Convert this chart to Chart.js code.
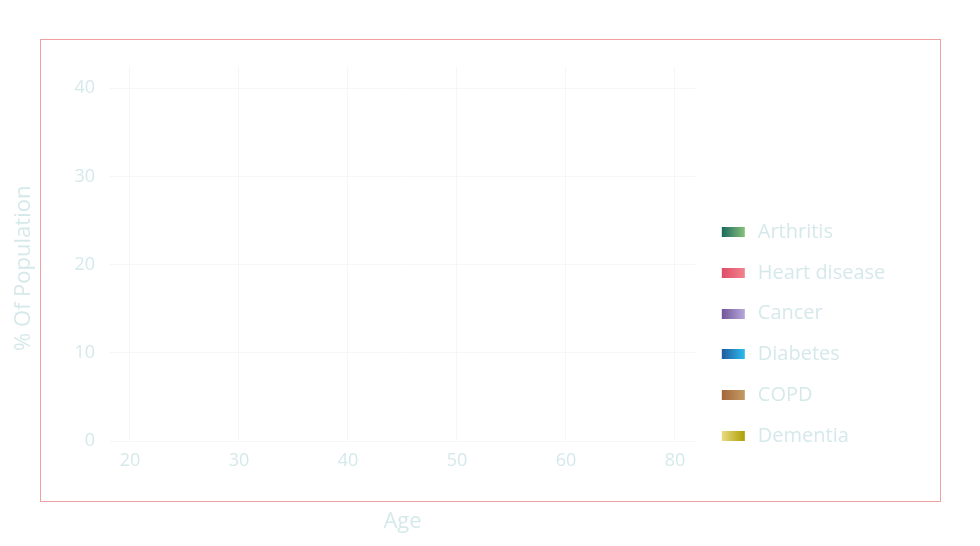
<!DOCTYPE html>
<html>
<head>
<meta charset="utf-8">
<title>% Of Population by Age</title>
<script src="https://cdn.jsdelivr.net/npm/chart.js@4"></script>
<style>
    body { margin: 0; background: #ffffff; }
    #wrap { position: relative; width: 980px; height: 546px; }
    #frame {
        position: absolute; left: 40px; top: 39px; width: 899px; height: 461px;
        border: 1px solid #f0a0a0; pointer-events: none;
    }
</style>
</head>
<body>
<div id="wrap">
    <canvas id="chartDoencas" width="980" height="546"></canvas>
    <div id="frame"></div>
</div>
<script>
// dados
const ages = ['20', '30', '40', '50', '60', '80'];
const seriesNames = ['Arthritis', 'Heart disease', 'Cancer', 'Diabetes', 'COPD', 'Dementia'];
// nenhuma serie aparece desenhada no grafico
const arthritis = [];
const heartDisease = [];
const cancer = [];
const diabetes = [];
const copd = [];
const dementia = [];
const yTicks = [0, 10, 20, 30, 40];

// gradientes das amostras da legenda (esquerda -> direita)
const swatchColors = [
    ['#1b6a5c', '#86c27c'],
    ['#df4c67', '#f2838f'],
    ['#73559a', '#b6a8dc'],
    ['#22599f', '#2cbdee'],
    ['#a6673a', '#c39b66'],
    ['#e9dc80', '#ae9f05']
];

const textColor = '#d6e9ea';
const gridColor = '#f3f7f7';
const fonte = '"Open Sans", sans-serif';

// amostra com margem transparente a esquerda/direita
function makeSwatch(cores) {
    const c = document.createElement('canvas');
    c.width = 32;
    c.height = 10;
    const g = c.getContext('2d');
    const grad = g.createLinearGradient(6, 0, 29, 0);
    grad.addColorStop(0, cores[0]);
    grad.addColorStop(1, cores[1]);
    g.fillStyle = grad;
    g.fillRect(6, 0, 23, 10);
    return c;
}

document.addEventListener('DOMContentLoaded', () => {
    const ctx = document.getElementById('chartDoencas');
    const valores = [arthritis, heartDisease, cancer, diabetes, copd, dementia];
    const swatches = swatchColors.map(makeSwatch);

    // largura da legenda para fixar a borda direita da area do grafico
    const medidor = document.createElement('canvas').getContext('2d');
    medidor.font = '20px ' + fonte;
    const maiorTexto = Math.max(...seriesNames.map(n => medidor.measureText(n).width));
    const larguraLegenda = 20.8 + 32 + 10 + maiorTexto + 10;
    const padDireita = 980 - 695 - larguraLegenda;

    new Chart(ctx, {
        type: 'line',
        data: {
            datasets: seriesNames.map((nome, i) => ({
                label: nome,
                data: valores[i],
                borderColor: swatchColors[i][0],
                backgroundColor: swatchColors[i][1],
                pointStyle: swatches[i]
            }))
        },
        options: {
            responsive: false,
            animation: false,
            layout: { padding: { left: 0, right: padDireita, top: 67, bottom: 11.4 } },
            plugins: {
                tooltip: { enabled: false },
                legend: {
                    position: 'right',
                    title: { display: true, text: ' ', font: { size: 10 }, padding: { top: 54.4, bottom: 0 } },
                    labels: {
                        usePointStyle: true,
                        pointStyleWidth: 32,
                        boxHeight: 10,
                        padding: 20.8,
                        color: textColor,
                        font: { family: fonte, size: 20 },
                        generateLabels: () => seriesNames.map((nome, i) => ({
                            text: nome,
                            pointStyle: swatches[i],
                            fontColor: textColor,
                            lineWidth: 0,
                            datasetIndex: i
                        }))
                    }
                }
            },
            scales: {
                x: {
                    type: 'linear',
                    bounds: 'data',
                    min: -0.1835,
                    max: ages.length - 1 + 0.1835,
                    border: { display: false },
                    grid: { color: gridColor, drawTicks: false },
                    afterBuildTicks: (eixo) => { eixo.ticks = ages.map((a, i) => ({ value: i })); },
                    ticks: {
                        padding: 9.5,
                        color: textColor,
                        font: { family: fonte, size: 18 },
                        callback: (v) => ages[v]
                    },
                    title: {
                        display: true,
                        text: 'Age',
                        color: textColor,
                        font: { family: fonte, size: 22 },
                        padding: { top: 26.6, bottom: 0 }
                    }
                },
                y: {
                    type: 'linear',
                    bounds: 'data',
                    min: yTicks[0],
                    max: 42.4,
                    border: { display: false },
                    grid: { color: gridColor, drawTicks: false },
                    afterBuildTicks: (eixo) => { eixo.ticks = yTicks.map(v => ({ value: v })); },
                    ticks: {
                        padding: 15,
                        color: textColor,
                        font: { family: fonte, size: 18 }
                    },
                    title: {
                        display: true,
                        // espacos no fim deslocam o titulo para baixo
                        text: '% Of Population\u00a0\u00a0\u00a0\u00a0\u00a0',
                        color: textColor,
                        font: { family: fonte, size: 22 },
                        padding: { top: 10.1, bottom: 22.9 }
                    }
                }
            }
        }
    });
});
</script>
</body>
</html>
